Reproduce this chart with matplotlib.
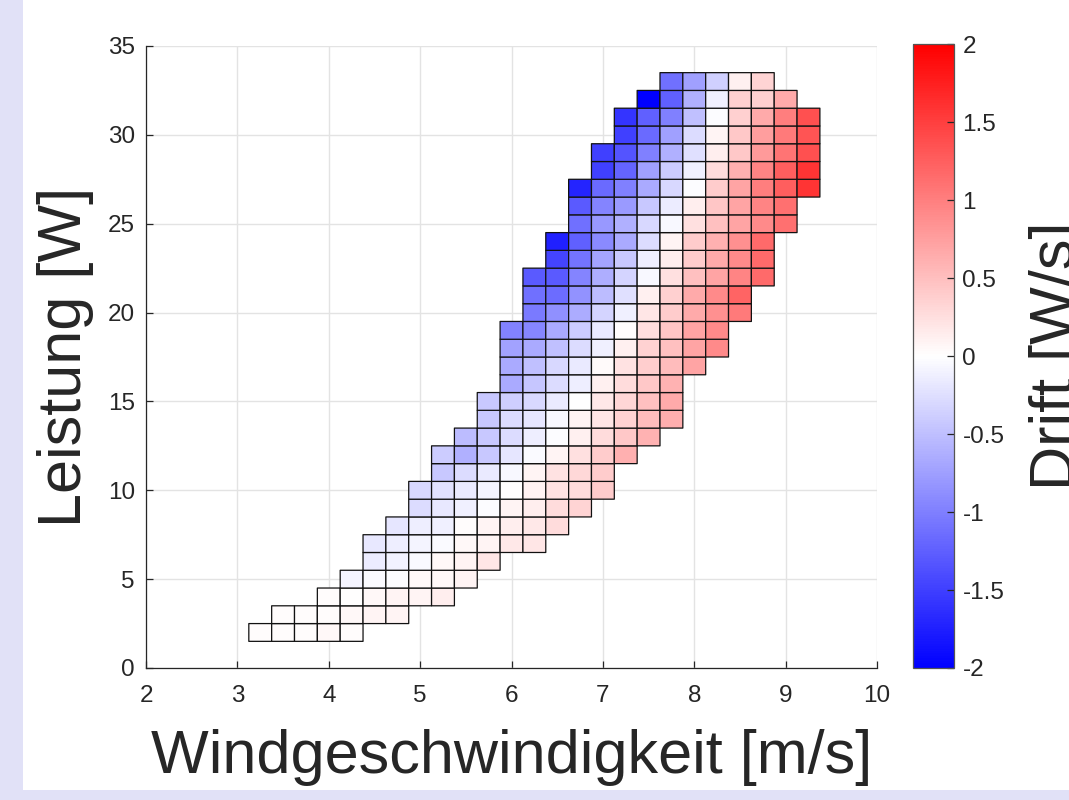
import numpy as np
import matplotlib
matplotlib.use("Agg")
import matplotlib.pyplot as plt
from matplotlib.colors import LinearSegmentedColormap
from matplotlib.patches import Rectangle

plt.rcParams['font.family'] = ['Liberation Sans', 'DejaVu Sans']
plt.rcParams['axes.unicode_minus'] = False

# bin centres
wind_centers = [3.25 + 0.25 * i for i in range(25)]   # m/s
power_centers = list(range(2, 34))                    # W

# index of the first occupied wind bin for each power row (row 2 W ... 33 W)
row_first_col = [0, 1, 3, 4, 5, 5, 6, 7, 7, 8, 8, 9, 10, 10, 11, 11,
                 11, 11, 12, 12, 12, 13, 13, 14, 14, 14, 15, 15, 16, 16, 17, 18]

# drift values per power row
drift_rows = [
    [0.02, 0.02, 0.02, 0.05, 0.02],                                    # 2
    [0.02, 0.02, 0.02, 0.05, 0.08, 0.08],                              # 3
    [0.02, 0.01, 0.05, 0.08, 0.08, 0.13],                              # 4
    [-0.08, -0.04, -0.02, 0.05, 0.05, 0.08],                           # 5
    [-0.15, -0.10, -0.04, 0.05, 0.09, 0.20],                           # 6
    [-0.18, -0.13, -0.08, -0.04, 0.05, 0.09, 0.18, 0.20],              # 7
    [-0.20, -0.13, -0.12, 0.02, 0.08, 0.13, 0.18, 0.27],               # 8
    [-0.27, -0.18, -0.12, -0.02, 0.08, 0.13, 0.27, 0.33],              # 9
    [-0.31, -0.22, -0.16, -0.08, 0.0, 0.10, 0.22, 0.27, 0.40],         # 10
    [-0.43, -0.27, -0.16, -0.05, 0.09, 0.22, 0.30, 0.40],              # 11
    [-0.40, -0.62, -0.43, -0.20, -0.04, 0.08, 0.24, 0.40, 0.62],       # 12
    [-0.53, -0.43, -0.27, -0.13, -0.02, 0.12, 0.27, 0.43, 0.60],       # 13
    [-0.43, -0.27, -0.20, -0.06, 0.08, 0.20, 0.35, 0.53, 0.64],        # 14
    [-0.43, -0.38, -0.31, -0.16, -0.01, 0.18, 0.32, 0.49, 0.67],       # 15
    [-0.67, -0.45, -0.27, -0.13, 0.12, 0.27, 0.43, 0.60],              # 16
    [-0.67, -0.49, -0.31, -0.16, 0.04, 0.22, 0.39, 0.53, 0.71],        # 17
    [-0.73, -0.67, -0.49, -0.27, -0.12, 0.12, 0.35, 0.49, 0.71, 0.92], # 18
    [-0.98, -0.94, -0.67, -0.40, -0.17, 0.02, 0.26, 0.45, 0.71, 0.92], # 19
    [-1.04, -0.87, -0.65, -0.33, -0.12, 0.20, 0.40, 0.67, 0.87, 1.04], # 20
    [-1.12, -1.15, -0.85, -0.53, -0.24, 0.12, 0.37, 0.67, 0.92, 1.21], # 21
    [-1.29, -1.29, -0.96, -0.64, -0.33, -0.05, 0.24, 0.49, 0.71, 0.96, 1.17],  # 22
    [-1.46, -1.08, -0.71, -0.43, -0.13, 0.13, 0.40, 0.67, 0.92, 1.17],  # 23
    [-1.75, -1.25, -0.92, -0.67, -0.27, 0.09, 0.40, 0.62, 0.87, 1.17],  # 24
    [-1.12, -0.81, -0.62, -0.31, -0.05, 0.24, 0.49, 0.71, 0.92, 1.12],  # 25
    [-1.29, -0.96, -0.79, -0.43, -0.15, 0.13, 0.45, 0.71, 0.96, 1.12],  # 26
    [-1.71, -1.17, -1.0, -0.67, -0.31, -0.02, 0.40, 0.71, 1.0, 1.25, 1.58],  # 27
    [-1.5, -1.21, -0.75, -0.40, -0.12, 0.27, 0.62, 0.96, 1.25, 1.58],   # 28
    [-1.5, -1.33, -1.0, -0.62, -0.24, 0.13, 0.43, 0.79, 1.08, 1.37],    # 29
    [-1.5, -1.17, -0.75, -0.27, 0.08, 0.43, 0.75, 1.04, 1.33],          # 30
    [-1.58, -1.25, -1.0, -0.49, -0.02, 0.37, 0.67, 1.0, 1.37],          # 31
    [-2.0, -1.25, -0.62, -0.12, 0.37, 0.37, 0.67],                      # 32
    [-1.12, -0.75, -0.37, 0.12, 0.33],                                  # 33
]

# build masked grid
grid = np.full((len(power_centers), len(wind_centers)), np.nan)
for r, (start, vals) in enumerate(zip(row_first_col, drift_rows)):
    grid[r, start:start + len(vals)] = vals
grid = np.ma.masked_invalid(grid)

x_edges = np.concatenate([[wind_centers[0] - 0.125], np.array(wind_centers) + 0.125])
y_edges = np.concatenate([[power_centers[0] - 0.5], np.array(power_centers) + 0.5])

bwr = LinearSegmentedColormap.from_list('bwr_m', [(0, 0, 1), (1, 1, 1), (1, 0, 0)], N=256)

fig = plt.figure(figsize=(10.69, 8), dpi=100)
fig.patch.set_facecolor('#e1e1f7')
fig.patches.append(Rectangle((0.0215, 0.0125), 1.0, 1.0, transform=fig.transFigure,
                             facecolor='white', edgecolor='none', zorder=-10))

ax = fig.add_axes([0.1366, 0.165, 0.6838, 0.7775])
ax.set_facecolor('white')
mesh = ax.pcolor(x_edges, y_edges, grid, cmap=bwr, vmin=-2, vmax=2,
                 edgecolors='#111111', linewidths=0.9)

ax.set_xlim(2, 10)
ax.set_ylim(0, 35)
ax.set_xticks(range(2, 11))
ax.set_yticks(range(0, 36, 5))
ax.grid(True, color='#e3e3e3', linewidth=1.0)
ax.set_axisbelow(True)
for s in ['top', 'right']:
    ax.spines[s].set_visible(False)
for s in ['left', 'bottom']:
    ax.spines[s].set_color('#262626')
    ax.spines[s].set_linewidth(0.9)
ax.tick_params(direction='in', length=5, width=0.9, colors='#262626', labelsize=17.5)
ax.tick_params(axis='x', pad=12)
ax.tick_params(axis='y', pad=8)

ax.set_xlabel('Windgeschwindigkeit [m/s]', fontsize=44, color='#262626', labelpad=16)
ax.set_ylabel('Leistung [W]', fontsize=44, color='#262626', labelpad=10)

cax = fig.add_axes([0.8541, 0.165, 0.0384, 0.7795])
cb = fig.colorbar(mesh, cax=cax, ticks=np.arange(-2, 2.01, 0.5), format='%g')
cb.outline.set_edgecolor('#555555')
cb.outline.set_linewidth(0.9)
cax.tick_params(direction='in', length=5, width=0.9, colors='#262626', labelsize=17.5, pad=6)
cb.set_label('Drift [W/s]', fontsize=44, color='#262626', labelpad=18)

fig.savefig('out.png', dpi=100, facecolor=fig.get_facecolor())
